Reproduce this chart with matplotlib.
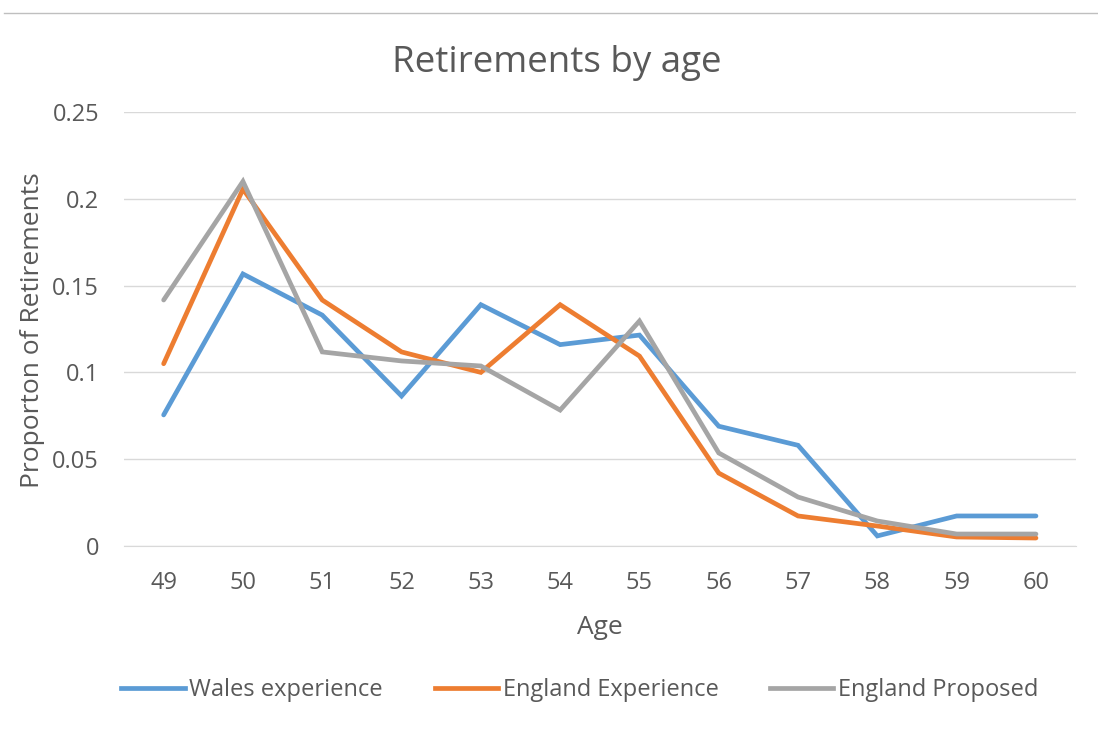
import matplotlib
matplotlib.use("Agg")
import matplotlib.pyplot as plt
from matplotlib.lines import Line2D

ages = [49, 50, 51, 52, 53, 54, 55, 56, 57, 58, 59, 60]
wales = [0.0755, 0.1567, 0.133, 0.0864, 0.139, 0.116, 0.1215, 0.069, 0.058, 0.0058, 0.0173, 0.0173]
eng_exp = [0.105, 0.2056, 0.1417, 0.1118, 0.100, 0.139, 0.1094, 0.042, 0.0173, 0.0115, 0.0052, 0.0046]
eng_prop = [0.1417, 0.210, 0.1118, 0.1066, 0.1037, 0.0783, 0.1296, 0.0536, 0.0282, 0.0144, 0.0069, 0.0069]
yticks = [0, 0.05, 0.1, 0.15, 0.2, 0.25]
ytick_labels = ["0", "0.05", "0.1", "0.15", "0.2", "0.25"]

plt.rcParams['font.family'] = ['Open Sans', 'DejaVu Sans']
txt = '#595959'

fig = plt.figure(figsize=(10.98, 7.53), dpi=100)
ax = fig.add_axes([124/1098, 1-546/753, (1075.6-124)/1098, (546-112)/753])

lw = 3.4
ax.plot(ages, wales, color='#5B9BD5', lw=lw, label='Wales experience', solid_capstyle='round', solid_joinstyle='miter')
ax.plot(ages, eng_exp, color='#ED7D31', lw=lw, label='England Experience', solid_capstyle='round', solid_joinstyle='miter')
ax.plot(ages, eng_prop, color='#A5A5A5', lw=lw, label='England Proposed', solid_capstyle='round', solid_joinstyle='miter')

ax.set_xlim(48.5, 60.5)
ax.set_ylim(0, 0.25)
ax.set_xticks(ages)
ax.set_xticklabels([str(a) for a in ages])
ax.set_yticks(yticks)
ax.set_yticklabels(ytick_labels)
ax.grid(axis='y', color='#D9D9D9', lw=1)
ax.set_axisbelow(True)
for s in ['top', 'right', 'left']:
    ax.spines[s].set_visible(False)
ax.spines['bottom'].set_color('#D9D9D9')
ax.tick_params(axis='both', length=0, colors=txt, labelsize=17)
ax.tick_params(axis='x', pad=18)
ax.tick_params(axis='y', pad=18)

fig.text(557/1098, 1-63/753, 'Retirements by age', ha='center', va='center', fontsize=26.5, color=txt)
fig.text(600/1098, 1-628/753, 'Age', ha='center', va='center', fontsize=19, color=txt)
fig.text(33/1098, 1-330/753, 'Proporton of Retirements', ha='center', va='center', rotation=90, fontsize=19, color=txt)

handles = [Line2D([0], [0], color=c, lw=lw) for c in ['#5B9BD5', '#ED7D31', '#A5A5A5']]
leg = fig.legend(handles, ['Wales experience', 'England Experience', 'England Proposed'],
                 loc='center', bbox_to_anchor=(580/1098, 1-690/753), ncol=3, frameon=False,
                 fontsize=17, handlelength=2.67, handletextpad=0.2, columnspacing=2.2)
for t in leg.get_texts():
    t.set_color(txt)

fig.add_artist(Line2D([4/1098, 1], [1-13/753, 1-13/753], color='#BFBFBF', lw=1, transform=fig.transFigure))

fig.savefig('out.png', dpi=100)
